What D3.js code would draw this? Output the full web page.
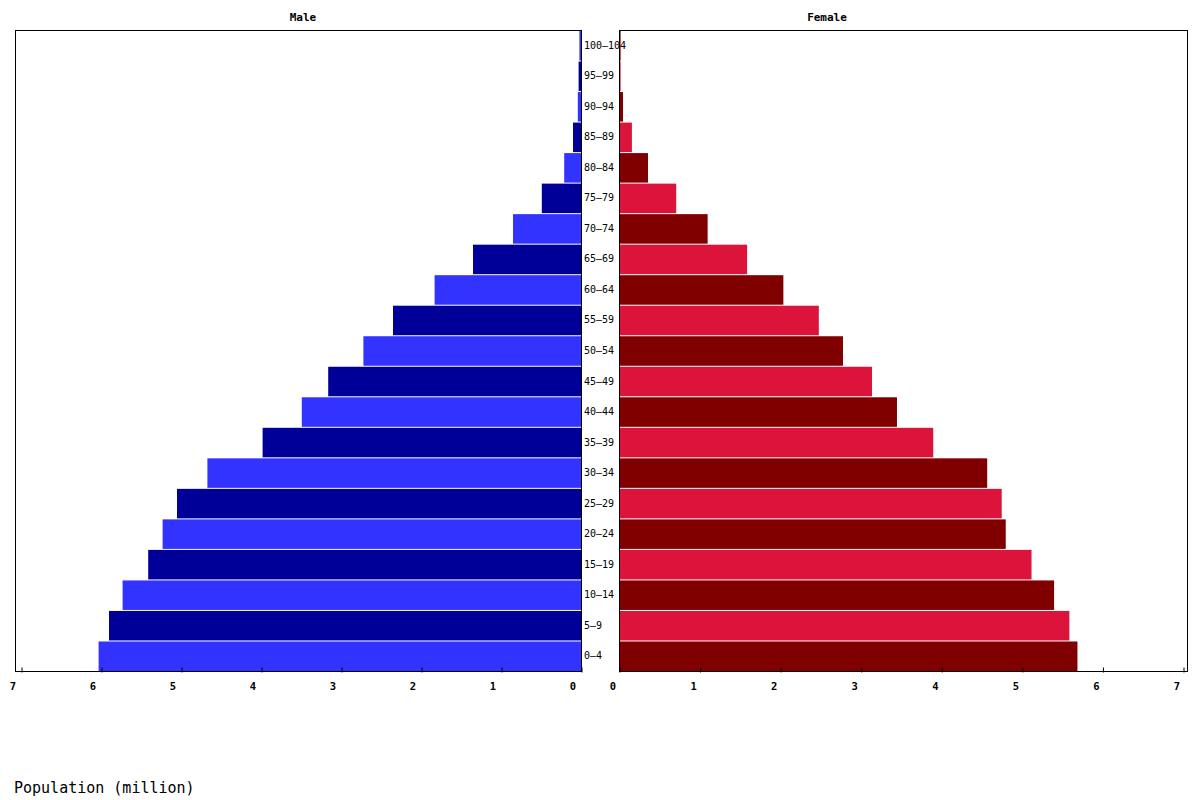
<!DOCTYPE html>
<html><head><meta charset="utf-8">
<script src="https://cdn.jsdelivr.net/npm/d3@7"></script>
<style>body{margin:0;background:#fff}svg{display:block}</style>
</head><body>
<script>
const ageGroups = ["0-4","5-9","10-14","15-19","20-24","25-29","30-34","35-39","40-44","45-49","50-54","55-59","60-64","65-69","70-74","75-79","80-84","85-89","90-94","95-99","100-104"];
const maleValues = [6.03,5.90,5.73,5.41,5.23,5.05,4.67,3.98,3.49,3.16,2.72,2.35,1.83,1.35,0.85,0.49,0.21,0.10,0.04,0.03,0.02];
const femaleValues = [5.69,5.59,5.40,5.12,4.80,4.75,4.57,3.90,3.45,3.14,2.78,2.48,2.04,1.59,1.10,0.71,0.36,0.16,0.05,0.02,0.02];
const tickValues = [0,1,2,3,4,5,6,7];
const maleColors = ["#3333ff","#000099"];
const femaleColors = ["#800000","#dc143c"];

const W = 1200, H = 800;
const plotTop = 30, plotBottom = 671;
const mono = "'DejaVu Sans Mono', 'Liberation Mono', monospace";

const svg = d3.select("body").append("svg").attr("width", W).attr("height", H);

const y = d3.scaleBand().domain(ageGroups.slice().reverse()).range([plotTop, plotBottom]).paddingInner(0);
const xm = d3.scaleLinear().domain([0, 7]).range([581, 21]);
const xf = d3.scaleLinear().domain([0, 7]).range([619, 1183]);

// bars
const gm = svg.append("g");
gm.selectAll("rect").data(ageGroups).join("rect")
  .attr("x", (d,i) => xm(maleValues[i]))
  .attr("y", d => y(d) + 1)
  .attr("width", (d,i) => xm(0) - xm(maleValues[i]))
  .attr("height", y.bandwidth() - 1)
  .attr("fill", (d,i) => maleColors[i % 2]);

const gf = svg.append("g");
gf.selectAll("rect").data(ageGroups).join("rect")
  .attr("x", xf(0))
  .attr("y", d => y(d) + 1)
  .attr("width", (d,i) => xf(femaleValues[i]) - xf(0))
  .attr("height", y.bandwidth() - 1)
  .attr("fill", (d,i) => femaleColors[i % 2]);

// frames
svg.append("rect").attr("x", 15.5).attr("y", plotTop + 0.5).attr("width", 581 - 15).attr("height", plotBottom - plotTop)
  .attr("fill", "none").attr("stroke", "#000").attr("stroke-width", 1);
svg.append("rect").attr("x", 619.5).attr("y", plotTop + 0.5).attr("width", 1187 - 619).attr("height", plotBottom - plotTop)
  .attr("fill", "none").attr("stroke", "#000").attr("stroke-width", 1);

// axes
const axM = d3.axisBottom(xm).tickValues(tickValues).tickSize(0).tickFormat(d3.format("d"));
const axF = d3.axisBottom(xf).tickValues(tickValues).tickSize(0).tickFormat(d3.format("d"));
function styleAxis(g, offset) {
  g.select(".domain").remove();
  g.selectAll(".tick line").remove();
  g.selectAll(".tick").append("line").attr("y1", -4).attr("y2", 1).attr("stroke", "#000");
  g.selectAll(".tick text").attr("dy", 0).attr("y", 18).attr("dx", offset)
    .attr("font-family", mono).attr("font-size", 10.5).attr("font-weight", "bold").attr("fill", "#000");
}
svg.append("g").attr("transform", `translate(0.5,${plotBottom + 0.5})`).call(axM).call(g => styleAxis(g, -9));
svg.append("g").attr("transform", `translate(0.5,${plotBottom + 0.5})`).call(axF).call(g => styleAxis(g, -7));

// age labels
svg.append("g").selectAll("text").data(ageGroups).join("text")
  .attr("x", 584).attr("y", d => y(d) + y.bandwidth() / 2 + 3.5)
  .attr("font-family", mono).attr("font-size", 10).attr("fill", "#000")
  .text(d => d.replace("-", "\u2013"));

// titles
svg.append("text").attr("x", 303).attr("y", 21).attr("text-anchor", "middle")
  .attr("font-family", mono).attr("font-size", 11).attr("font-weight", "bold").text("Male");
svg.append("text").attr("x", 827).attr("y", 21).attr("text-anchor", "middle")
  .attr("font-family", mono).attr("font-size", 11).attr("font-weight", "bold").text("Female");

svg.append("text").attr("x", 14).attr("y", 793)
  .attr("font-family", mono).attr("font-size", 15).text("Population (million)");
</script>
</body></html>
